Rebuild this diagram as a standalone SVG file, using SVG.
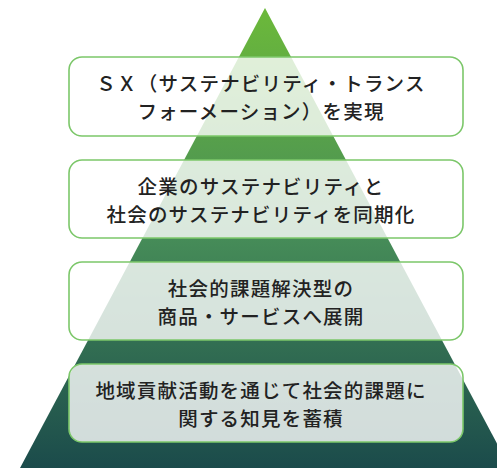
<svg xmlns="http://www.w3.org/2000/svg" width="497" height="468" viewBox="0 0 497 468">
<defs>
<linearGradient id="pg" x1="0" y1="8" x2="0" y2="468" gradientUnits="userSpaceOnUse">
<stop offset="0" stop-color="#6cb93a"/>
<stop offset="0.5" stop-color="#468c58"/>
<stop offset="1" stop-color="#1b4b4b"/>
</linearGradient>
<style>
.box{fill:#ffffff;fill-opacity:0.8;stroke:#7cc76a;stroke-width:1.6}
.t{font-family:"Noto Sans CJK JP","Noto Sans",sans-serif;font-size:19.5px;font-weight:500;fill:#222222;text-anchor:middle;dominant-baseline:central;letter-spacing:1.2px}
</style>
</defs>
<polygon id="pyramid" points="265,8 20,468 510,468" fill="url(#pg)"/>
<g id="connectors"/>
<g id="n1">
<rect class="box" x="69" y="57" width="394" height="79" rx="13"/>
<text class="t" x="261" y="82">ＳＸ（サステナビリティ・トランス</text>
<text class="t" x="261" y="110">フォーメーション）を実現</text>
</g>
<g id="n2">
<rect class="box" x="69" y="160" width="394" height="78" rx="13"/>
<text class="t" x="261" y="185">企業のサステナビリティと</text>
<text class="t" x="261" y="213">社会のサステナビリティを同期化</text>
</g>
<g id="n3">
<rect class="box" x="69" y="262" width="394" height="78" rx="13"/>
<text class="t" x="261" y="287">社会的課題解決型の</text>
<text class="t" x="261" y="315">商品・サービスへ展開</text>
</g>
<g id="n4">
<rect class="box" x="69" y="364" width="394" height="78" rx="13"/>
<text class="t" x="261" y="389">地域貢献活動を通じて社会的課題に</text>
<text class="t" x="261" y="417">関する知見を蓄積</text>
</g>
</svg>
